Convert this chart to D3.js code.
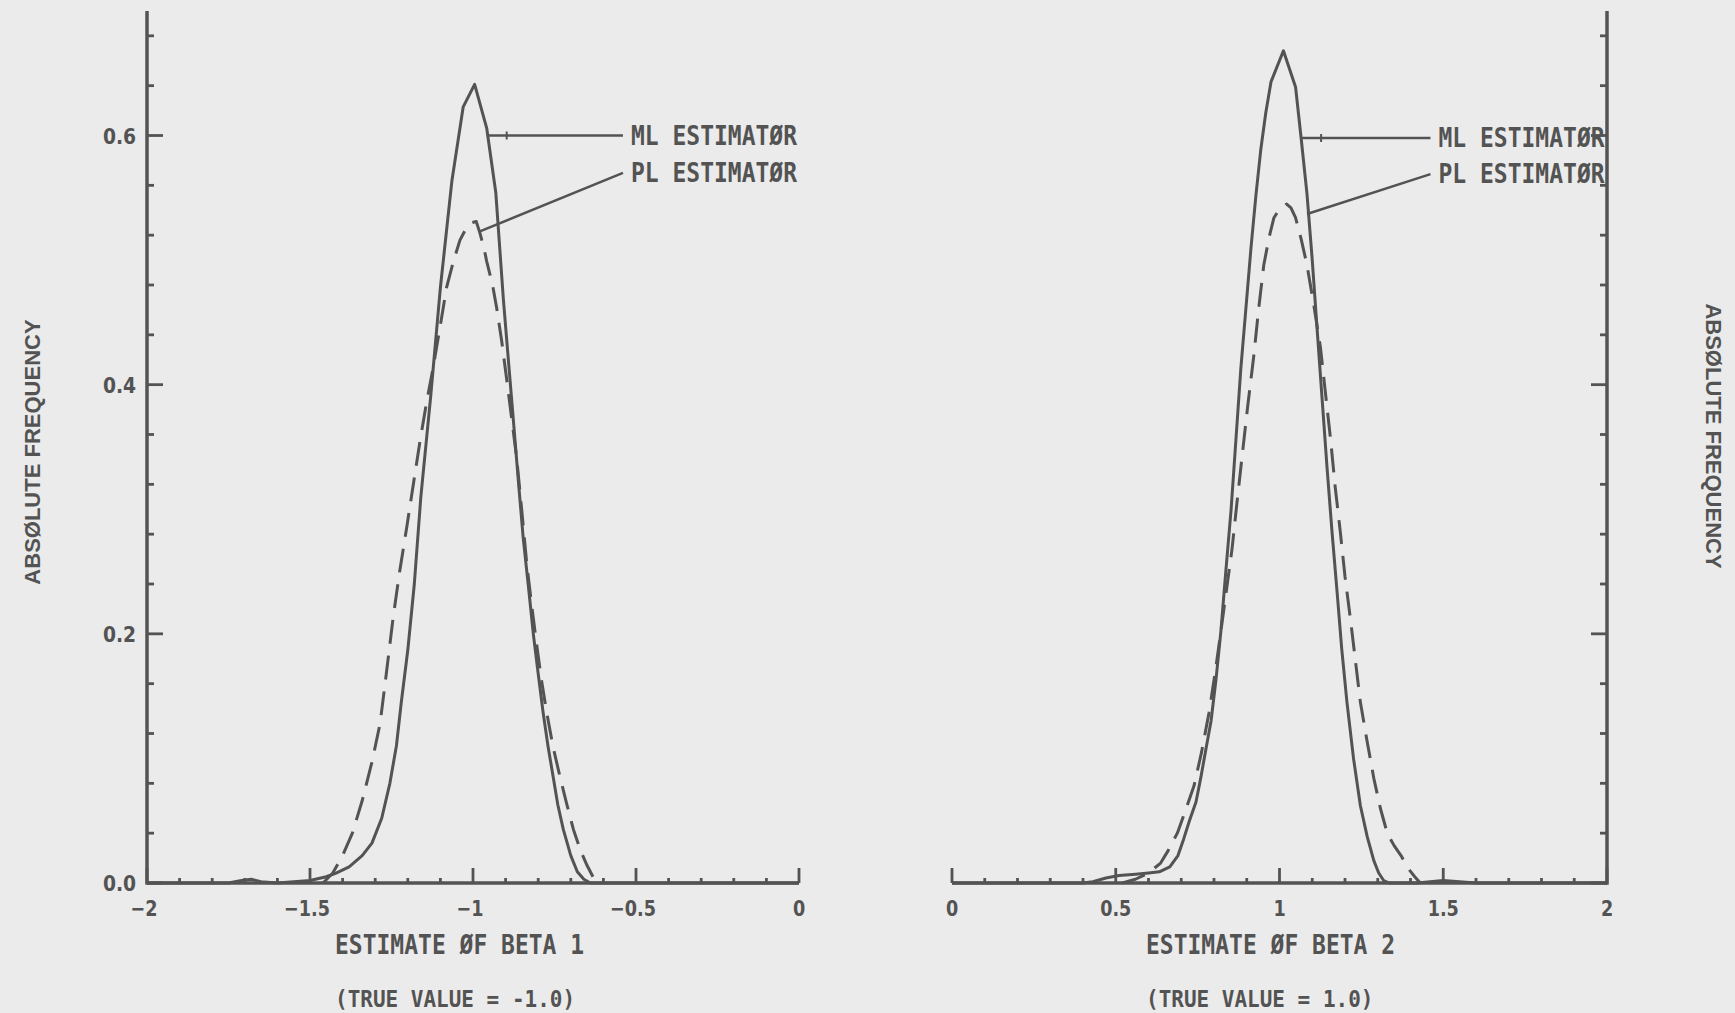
<!DOCTYPE html>
<html lang="en">

<head>
    <meta charset="UTF-8">
    <title>ML vs PL estimator distributions</title>
    <style>
        body {
            margin: 0;
            background-color: #ebebeb;
        }

        svg {
            display: block;
        }
    </style>
</head>

<body>
    <div id="chart-container"></div>

    <script src="https://d3js.org/d3.v7.min.js"></script>
    <script>
        // ---- data ----
        const beta1MlX = [-2.00, -1.75, -1.71, -1.68, -1.65, -1.60, -1.50, -1.45, -1.42, -1.38, -1.34, -1.31, -1.28, -1.255, -1.235, -1.22, -1.20, -1.18, -1.16, -1.13, -1.10, -1.065, -1.03, -0.995, -0.958, -0.93, -0.907, -0.89, -0.876, -0.86, -0.846, -0.83, -0.815, -0.80, -0.785, -0.77, -0.754, -0.74, -0.723, -0.70, -0.68, -0.66, -0.64, 0.00];
        const beta1MlY = [0, 0, 0.002, 0.003, 0.001, 0, 0.002, 0.005, 0.008, 0.013, 0.022, 0.032, 0.052, 0.080, 0.110, 0.145, 0.187, 0.240, 0.310, 0.390, 0.478, 0.563, 0.623, 0.641, 0.606, 0.554, 0.469, 0.415, 0.371, 0.320, 0.277, 0.238, 0.200, 0.168, 0.137, 0.110, 0.085, 0.063, 0.043, 0.022, 0.009, 0.003, 0, 0];

        const beta1PlX = [-1.46, -1.43, -1.40, -1.37, -1.34, -1.31, -1.285, -1.265, -1.245, -1.225, -1.203, -1.183, -1.163, -1.143, -1.122, -1.10, -1.081, -1.06, -1.04, -1.02, -1.005, -0.99, -0.978, -0.965, -0.958, -0.94, -0.927, -0.912, -0.897, -0.88, -0.866, -0.85, -0.835, -0.82, -0.805, -0.79, -0.774, -0.755, -0.733, -0.712, -0.692, -0.67, -0.65, -0.632, -0.62];
        const beta1PlY = [0, 0.008, 0.022, 0.040, 0.066, 0.097, 0.128, 0.170, 0.213, 0.250, 0.286, 0.320, 0.354, 0.385, 0.414, 0.448, 0.478, 0.499, 0.516, 0.526, 0.530, 0.531, 0.521, 0.508, 0.499, 0.480, 0.461, 0.435, 0.405, 0.370, 0.341, 0.298, 0.256, 0.223, 0.192, 0.163, 0.137, 0.110, 0.085, 0.063, 0.043, 0.026, 0.014, 0.005, 0];

        const beta2MlX = [0, 0.40, 0.43, 0.47, 0.51, 0.56, 0.60, 0.633, 0.665, 0.69, 0.707, 0.725, 0.745, 0.76, 0.775, 0.791, 0.806, 0.821, 0.836, 0.852, 0.867, 0.882, 0.898, 0.913, 0.928, 0.943, 0.958, 0.974, 1.012, 1.049, 1.066, 1.084, 1.10, 1.115, 1.13, 1.145, 1.16, 1.176, 1.19, 1.206, 1.226, 1.247, 1.268, 1.288, 1.303, 1.318, 1.335, 1.42, 1.46, 1.50, 1.55, 1.60, 2.00];
        const beta2MlY = [0, 0, 0.001, 0.004, 0.006, 0.007, 0.008, 0.009, 0.013, 0.022, 0.035, 0.050, 0.065, 0.085, 0.107, 0.130, 0.163, 0.202, 0.250, 0.299, 0.356, 0.413, 0.463, 0.510, 0.552, 0.589, 0.618, 0.643, 0.668, 0.639, 0.598, 0.553, 0.500, 0.444, 0.389, 0.334, 0.283, 0.233, 0.188, 0.145, 0.100, 0.062, 0.037, 0.018, 0.008, 0.002, 0, 0, 0.001, 0.002, 0.001, 0, 0];

        const beta2PlX = [0.52, 0.56, 0.60, 0.637, 0.66, 0.688, 0.71, 0.739, 0.762, 0.785, 0.803, 0.821, 0.838, 0.855, 0.87, 0.886, 0.903, 0.921, 0.936, 0.952, 0.968, 0.983, 1.00, 1.022, 1.035, 1.049, 1.066, 1.084, 1.104, 1.125, 1.14, 1.156, 1.17, 1.186, 1.20, 1.217, 1.232, 1.247, 1.268, 1.288, 1.308, 1.329, 1.35, 1.371, 1.392, 1.413, 1.43];
        const beta2PlY = [0, 0.003, 0.008, 0.016, 0.026, 0.040, 0.056, 0.078, 0.105, 0.137, 0.168, 0.202, 0.235, 0.268, 0.305, 0.343, 0.383, 0.422, 0.460, 0.496, 0.518, 0.534, 0.541, 0.545, 0.542, 0.534, 0.517, 0.496, 0.465, 0.430, 0.394, 0.356, 0.318, 0.281, 0.246, 0.211, 0.178, 0.145, 0.113, 0.084, 0.060, 0.040, 0.030, 0.022, 0.012, 0.005, 0];

        const yTickLabels = [0, 0.2, 0.4, 0.6];
        const beta1TickLabels = [-2, -1.5, -1, -0.5, 0];
        const beta2TickLabels = [0, 0.5, 1, 1.5, 2];

        const estimatorNames = ["ML ESTIMATØR", "PL ESTIMATØR"];
        // leader lines: [x on curve, y on curve, y at label]
        const beta1Leaders = [[-0.958, 0.600, 0.600], [-0.979, 0.523, 0.570]];
        const beta2Leaders = [[1.066, 0.598, 0.598], [1.084, 0.537, 0.569]];
        const beta1LabelX = -0.54;
        const beta2LabelX = 1.461;

        // ---- layout ----
        const W = 1735, H = 1013;
        const ink = "#535353";
        const plotter = "'DejaVu Sans Mono', monospace";
        const tickFont = "'DejaVu Sans', sans-serif";

        const y = d3.scaleLinear().domain([0, 0.6]).range([883, 135.5]);
        const x1 = d3.scaleLinear().domain([-2, 0]).range([147, 799]);
        const x2 = d3.scaleLinear().domain([0, 2]).range([952, 1607]);
        const yTop = 0.7;

        const svg = d3.select("#chart-container")
          .append("svg")
          .attr("width", W)
          .attr("height", H);

        svg.append("rect")
          .attr("width", W)
          .attr("height", H)
          .attr("fill", "#ebebeb");

        const zip = (xs, ys) => xs.map((v, i) => [v, ys[i]]);

        // plotter style text: a bit taller than the mono font is
        function plotText(sel, px, py, size, str, sx = 1, sy = 1.12) {
            return sel.append("text")
              .attr("transform", `translate(${px},${py}) scale(${sx},${sy})`)
              .attr("font-family", plotter)
              .attr("font-weight", "bold")
              .attr("font-size", size)
              .attr("fill", ink)
              .text(str);
        }

        function drawPanel(x, ml, pl, tickLabels, leaders, labelX, yAxisSide) {
            const g = svg.append("g");
            const [x0, xEnd] = x.domain();

            // x axis baseline
            g.append("line")
              .attr("x1", x(x0)).attr("x2", x(xEnd))
              .attr("y1", y(0)).attr("y2", y(0))
              .attr("stroke", ink).attr("stroke-width", 3.5);

            // x ticks every 0.1, longer every 0.5, pointing up
            const xt = d3.range(0, 21).map(i => x0 + i * 0.1);
            g.selectAll(".xtick")
              .data(xt)
              .join("line")
              .attr("x1", d => x(d)).attr("x2", d => x(d))
              .attr("y1", y(0))
              .attr("y2", (d, i) => y(0) - (i % 5 === 0 ? 15 : 5))
              .attr("stroke", ink).attr("stroke-width", 2.8);

            g.selectAll(".xlab")
              .data(tickLabels)
              .join("text")
              .attr("transform", d => `translate(${x(d) - (d < 0 ? 3 : 0)},916) scale(0.8,1)`)
              .attr("text-anchor", "middle")
              .attr("font-family", tickFont)
              .attr("font-weight", "bold")
              .attr("font-size", 22)
              .attr("fill", ink)
              .text(d => d3.format("")(d));

            // y axis on the given side
            const ax = yAxisSide === "left" ? x(x0) : x(xEnd);
            const dir = yAxisSide === "left" ? 1 : -1;
            g.append("line")
              .attr("x1", ax).attr("x2", ax)
              .attr("y1", y(0) + 1.7).attr("y2", y(yTop))
              .attr("stroke", ink).attr("stroke-width", 3.5);

            const yt = d3.range(0, 18).map(i => i * 0.04);
            g.selectAll(".ytick")
              .data(yt)
              .join("line")
              .attr("x1", ax)
              .attr("x2", (d, i) => ax + dir * (i % 5 === 0 ? 16 : 7))
              .attr("y1", d => y(d)).attr("y2", d => y(d))
              .attr("stroke", ink).attr("stroke-width", 2.8);

            if (yAxisSide === "left") {
                g.selectAll(".ylab")
                  .data(yTickLabels)
                  .join("text")
                  .attr("transform", d => `translate(${ax - 11},${y(d) + 8}) scale(0.85,1)`)
                  .attr("text-anchor", "end")
                  .attr("font-family", tickFont)
                  .attr("font-weight", "bold")
                  .attr("font-size", 22)
                  .attr("fill", ink)
                  .text(d => d3.format(".1f")(d));
            }

            const line = d3.line()
              .x(d => x(d[0]))
              .y(d => y(d[1]));

            g.append("path")
              .datum(ml)
              .attr("fill", "none")
              .attr("stroke", ink)
              .attr("stroke-width", 3)
              .attr("stroke-linejoin", "round")
              .attr("d", line);

            g.append("path")
              .datum(pl)
              .attr("fill", "none")
              .attr("stroke", ink)
              .attr("stroke-width", 3)
              .attr("stroke-linejoin", "round")
              .attr("stroke-dasharray", "24,12")
              .attr("d", line);

            // leaders and estimator labels
            leaders.forEach((l, i) => {
                g.append("line")
                  .attr("x1", x(l[0])).attr("y1", y(l[1]))
                  .attr("x2", x(labelX)).attr("y2", y(l[2]))
                  .attr("stroke", ink).attr("stroke-width", 2.5);
                if (i === 0) {
                    g.append("line")
                      .attr("x1", x(l[0]) + 20).attr("x2", x(l[0]) + 20)
                      .attr("y1", y(l[1]) - 4).attr("y2", y(l[1]) + 4)
                      .attr("stroke", ink).attr("stroke-width", 2);
                }
                plotText(g, x(labelX) + 8, y(l[2]) + 9, 23, estimatorNames[i]);
            });
        }

        drawPanel(x1, zip(beta1MlX, beta1MlY), zip(beta1PlX, beta1PlY), beta1TickLabels, beta1Leaders, beta1LabelX, "left");
        drawPanel(x2, zip(beta2MlX, beta2MlY), zip(beta2PlX, beta2PlY), beta2TickLabels, beta2Leaders, beta2LabelX, "right");

        // axis titles
        plotText(svg, 335, 954, 23, "ESTIMATE ØF BETA 1");
        plotText(svg, 335, 1007, 21, "(TRUE VALUE = -1.0)");
        plotText(svg, 1146, 954, 23, "ESTIMATE ØF BETA 2");
        plotText(svg, 1146, 1007, 21, "(TRUE VALUE = 1.0)");

        svg.append("text")
          .attr("transform", "translate(40,452) rotate(-90)")
          .attr("text-anchor", "middle")
          .attr("font-family", "'Liberation Sans', Arial, sans-serif")
          .attr("font-weight", "bold")
          .attr("font-size", 22)
          .attr("fill", ink)
          .text("ABSØLUTE FREQUENCY");

        svg.append("text")
          .attr("transform", "translate(1706,436) rotate(90)")
          .attr("text-anchor", "middle")
          .attr("font-family", "'Liberation Sans', Arial, sans-serif")
          .attr("font-weight", "bold")
          .attr("font-size", 22)
          .attr("fill", ink)
          .text("ABSØLUTE FREQUENCY");
    </script>
</body>
</html>
